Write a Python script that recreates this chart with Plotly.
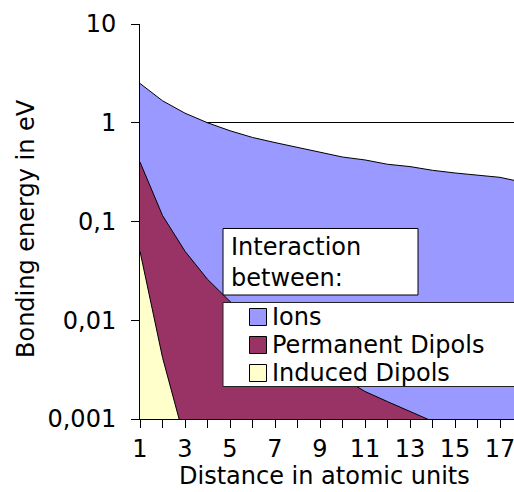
import plotly.graph_objects as go

# ---- data ----
distance = list(range(1, 19))
ions = [2.5, 1.67, 1.25, 1.0, 0.83, 0.71, 0.63, 0.56, 0.5, 0.45, 0.42, 0.38, 0.36, 0.33, 0.31, 0.295, 0.28, 0.25]
permanent_dipols = [0.4, 0.115, 0.05, 0.026, 0.0155, 0.0098, 0.0068, 0.0049, 0.0036, 0.0026,
                    0.0019, 0.0015, 0.0012, 0.00095, 0.00075, 0.0006, 0.0005, 0.0004]
induced_dipols = [0.05, 0.0042, 0.0006, 0.00015, 0.00005, 0.00002, 0.00001, 0.000005, 0.000003,
                  0.000002, 0.0000012, 0.0000008, 0.0000005, 0.0000004, 0.0000003, 0.0000002,
                  0.00000015, 0.0000001]
series_names = ["Ions", "Permanent Dipols", "Induced Dipols"]
series_colors = ["#9999FF", "#993366", "#FFFFCC"]
y_tickvals = [0.001, 0.01, 0.1, 1, 10]
y_ticktext = ["0,001", "0,01", "0,1", "1", "10"]
x_title = "Distance in atomic units"
y_title = "Bonding energy in eV"
box_title = "Interaction<br>between:"

FONT = "DejaVu Sans"
W, H = 514, 492
L, R, T, B = 140, 0, 24, 73
PW, PH = W - L - R, H - T - B


def px(x):
    return (x - L) / PW


def py(y):
    return (H - B - y) / PH


fig = go.Figure()
for name, vals, col in zip(series_names, [ions, permanent_dipols, induced_dipols], series_colors):
    fig.add_trace(go.Scatter(
        x=distance, y=vals, name=name, mode="lines",
        line=dict(color="black", width=1),
        fill="tozeroy", fillcolor=col, showlegend=False,
    ))

shapes = []
annotations = []
# "Interaction between:" box
shapes.append(dict(type="rect", xref="paper", yref="paper",
                   x0=px(223), x1=px(418), y0=py(295), y1=py(228.5),
                   fillcolor="white", line=dict(color="black", width=1), layer="above"))
annotations.append(dict(xref="paper", yref="paper", x=px(229), y=py(262.5),
                        xanchor="left", yanchor="middle", align="left", showarrow=False,
                        text=box_title, font=dict(family=FONT, size=24, color="black")))
# legend box
shapes.append(dict(type="rect", xref="paper", yref="paper",
                   x0=px(223), x1=px(530), y0=py(386.5), y1=py(302.5),
                   fillcolor="white", line=dict(color="#222222", width=1), layer="above"))
for i, (name, col) in enumerate(zip(series_names, series_colors)):
    cy = 317 + 28 * i
    shapes.append(dict(type="rect", xref="paper", yref="paper",
                       x0=px(249.5), x1=px(266.5), y0=py(cy + 8.5), y1=py(cy - 8.5),
                       fillcolor=col, line=dict(color="black", width=1), layer="above"))
    annotations.append(dict(xref="paper", yref="paper", x=px(270), y=py(cy),
                            xanchor="left", yanchor="middle", showarrow=False,
                            text=name, font=dict(family=FONT, size=24, color="black")))

# axis titles
annotations.append(dict(xref="paper", yref="paper", x=px(324), y=py(492),
                        xanchor="center", yanchor="bottom", showarrow=False,
                        text=x_title, font=dict(family=FONT, size=24, color="black")))
annotations.append(dict(xref="paper", yref="paper", x=px(26), y=py(229),
                        xanchor="center", yanchor="middle", showarrow=False, textangle=-90,
                        text=y_title, font=dict(family=FONT, size=24, color="black")))

fig.update_layout(
    width=W, height=H,
    margin=dict(l=L, r=R, t=T, b=B, pad=0),
    paper_bgcolor="white", plot_bgcolor="white",
    font=dict(family=FONT, size=24, color="black"),
    showlegend=False,
    shapes=shapes, annotations=annotations,
    xaxis=dict(
        range=[1, 1 + PW / 22.5], tick0=1, dtick=2,
        ticks="outside", ticklen=8, tickcolor="black", tickwidth=1,
        showline=True, linecolor="black", linewidth=1,
        showgrid=False, zeroline=False, automargin=False,
        ticklabelstandoff=0, ticklabeloverflow="allow",
        tickfont=dict(family=FONT, size=24, color="black"),
        minor=dict(tick0=1, dtick=1, ticks="outside", ticklen=8, tickcolor="black", showgrid=False),
    ),
    yaxis=dict(
        type="log", range=[-3, 1],
        tickvals=y_tickvals, ticktext=y_ticktext,
        ticks="outside", ticklen=8, tickcolor="black", tickwidth=1,
        showline=True, linecolor="black", linewidth=1,
        showgrid=True, gridcolor="black", gridwidth=1,
        zeroline=False, automargin=False,
        ticklabelstandoff=10, ticklabeloverflow="allow",
        tickfont=dict(family=FONT, size=24, color="black"),
    ),
)

fig.write_html("out.html", config={"displayModeBar": False},
               post_script="document.body.style.margin='0';")
